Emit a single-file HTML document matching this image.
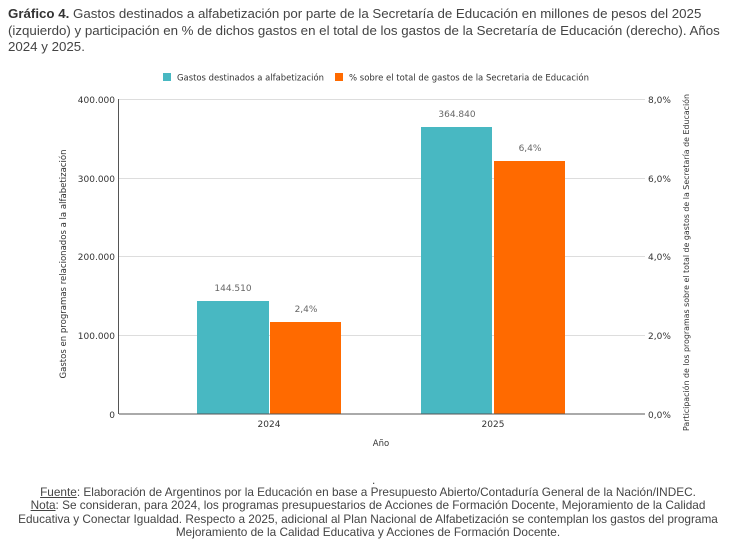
<!DOCTYPE html>
<html><head><meta charset="utf-8"><style>
body{margin:0;background:#fff;width:736px;height:541px;overflow:hidden;font-family:"Liberation Sans",sans-serif;}
.t{position:absolute;left:8px;top:6px;width:730px;font-size:13.3px;line-height:16.5px;color:#444;white-space:nowrap;}
.f{position:absolute;left:0;top:486px;width:736px;text-align:center;font-size:11.8px;line-height:13.4px;color:#444;white-space:nowrap;}
</style></head><body>
<div class="t"><b style="color:#333">Gráfico 4.</b> Gastos destinados a alfabetización por parte de la Secretaría de Educación en millones de pesos del 2025<br>(izquierdo) y participación en % de dichos gastos en el total de los gastos de la Secretaría de Educación (derecho). Años<br>2024 y 2025.</div>
<svg width="736" height="541" style="position:absolute;left:0;top:0" font-family="DejaVu Sans, sans-serif" font-size="9" fill="#333">
<rect x="163" y="73" width="8" height="8" fill="#48b8c2"/>
<text x="177" y="80.5" textLength="147" lengthAdjust="spacingAndGlyphs">Gastos destinados a alfabetización</text>
<rect x="335" y="73" width="8" height="8" fill="#ff6a00"/>
<text x="349" y="80.5" textLength="240" lengthAdjust="spacingAndGlyphs">% sobre el total de gastos de la Secretaria de Educación</text>
<g stroke="#ddd" stroke-width="1">
<line x1="119" y1="99.5" x2="645" y2="99.5"/><line x1="119" y1="178.5" x2="645" y2="178.5"/><line x1="119" y1="256.5" x2="645" y2="256.5"/><line x1="119" y1="335.5" x2="645" y2="335.5"/>
</g>
<rect x="197" y="301" width="72" height="113" fill="#48b8c2"/>
<rect x="270" y="322" width="71" height="92" fill="#ff6a00"/>
<rect x="421" y="127" width="71" height="287" fill="#48b8c2"/>
<rect x="494" y="161" width="71" height="253" fill="#ff6a00"/>
<line x1="119" y1="414" x2="645" y2="414" stroke="#555"/>
<line x1="118.5" y1="99" x2="118.5" y2="414" stroke="#555"/>
<g text-anchor="end"><text x="115" y="103">400.000</text><text x="115" y="182">300.000</text><text x="115" y="260">200.000</text><text x="115" y="339">100.000</text><text x="115" y="418">0</text></g>
<g><text x="648" y="103">8,0%</text><text x="648" y="182">6,0%</text><text x="648" y="260">4,0%</text><text x="648" y="339">2,0%</text><text x="648" y="418">0,0%</text></g>
<g text-anchor="middle" fill="#666"><text x="233" y="291">144.510</text><text x="306" y="312">2,4%</text><text x="457" y="117">364.840</text><text x="530" y="151">6,4%</text></g>
<g text-anchor="middle"><text x="269" y="427">2024</text><text x="493" y="427">2025</text><text x="381" y="446" font-size="8.5">Año</text></g>
<text transform="translate(66,264) rotate(-90)" text-anchor="middle" font-size="8.6" textLength="229" lengthAdjust="spacingAndGlyphs">Gastos en programas relacionados a la alfabetización</text>
<text transform="translate(689,262.5) rotate(-90)" text-anchor="middle" font-size="8.3" textLength="337" lengthAdjust="spacingAndGlyphs">Participación de los programas sobre el total de gastos de la Secretaría de Educación</text>
</svg>
<div class="f"><span style="position:absolute;left:372px;top:-12px">.</span><u>Fuente</u>: Elaboración de Argentinos por la Educación en base a Presupuesto Abierto/Contaduría General de la Nación/INDEC.<br><u>Nota</u>: Se consideran, para 2024, los programas presupuestarios de Acciones de Formación Docente, Mejoramiento de la Calidad<br>Educativa y Conectar Igualdad. Respecto a 2025, adicional al Plan Nacional de Alfabetización se contemplan los gastos del programa<br>Mejoramiento de la Calidad Educativa y Acciones de Formación Docente.</div>
</body></html>
